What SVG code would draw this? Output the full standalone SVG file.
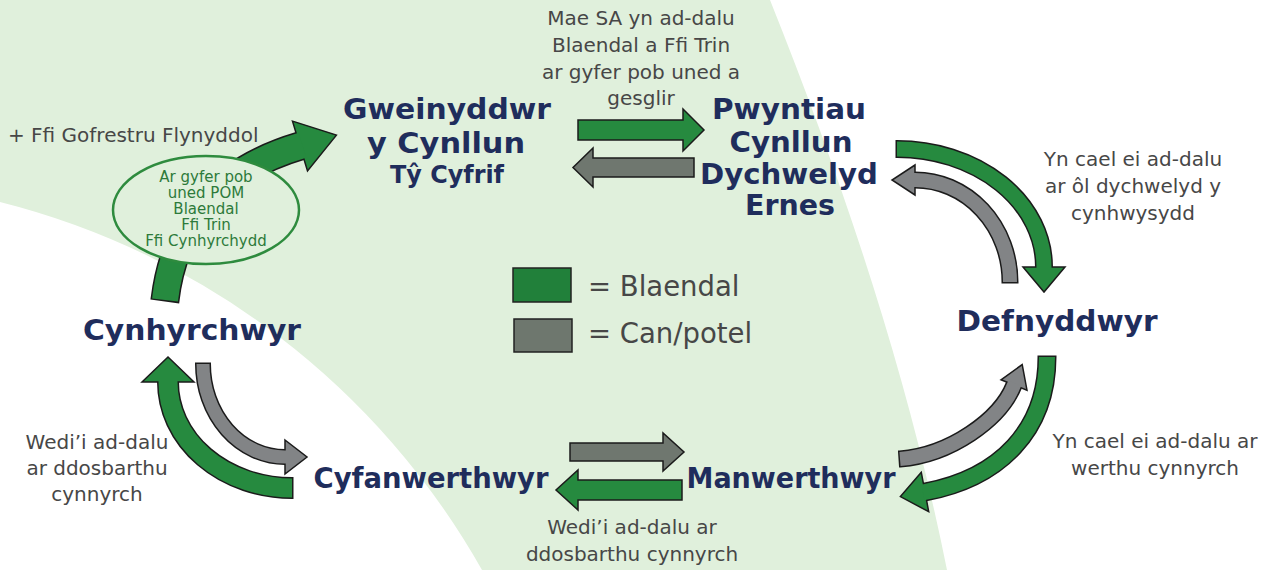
<svg xmlns="http://www.w3.org/2000/svg" width="1274" height="570" viewBox="0 0 1274 570">
<style>
.nd{font-family:"DejaVu Sans",Verdana,sans-serif;font-weight:bold;fill:#1f2d5c;text-anchor:middle;font-size:28px}
.lb{font-family:"DejaVu Sans",Verdana,sans-serif;fill:#474747;text-anchor:middle;font-size:20px}
.el{font-family:"DejaVu Sans",Verdana,sans-serif;fill:#2d7a3a;text-anchor:middle;font-size:15px}
.lg{font-family:"DejaVu Sans",Verdana,sans-serif;fill:#474747;font-size:27.5px}
.ol{fill:none;stroke:#1b1b1b;stroke-linecap:butt}
.gb{fill:none;stroke:#268a3f;stroke-linecap:butt}
.yb{fill:none;stroke:#828486;stroke-linecap:butt}
.gh{fill:#268a3f;stroke:#1b1b1b;stroke-width:1.5;stroke-linejoin:miter}
.yh{fill:#828486;stroke:#1b1b1b;stroke-width:1.5;stroke-linejoin:miter}
.ys{fill:#6f776f;stroke:#1b1b1b;stroke-width:1.5;stroke-linejoin:miter}
</style>
<defs>
<mask id="ellMask" maskUnits="userSpaceOnUse" x="0" y="0" width="1274" height="570">
<rect x="0" y="0" width="1274" height="570" fill="#fff"/>
<ellipse cx="206" cy="210" rx="93" ry="54" fill="#000"/>
</mask>
</defs>
<rect x="0" y="0" width="1274" height="570" fill="#ffffff"/>
<path id="bg" d="M0,0 H770 C846,190 909,380 947,570 H482 A769,769 0 0 0 0,202 Z" fill="#e0f0dc"/>

<g id="connectors">
<!-- Producers -> Scheme administrator (big green) -->
<g id="arrow-prod-admin" mask="url(#ellMask)">
<path class="ol" stroke-width="29" d="M164.8,301.5 L165,300 Q179,182 300,146"/>
<polygon class="gh" points="292.5,121.1 336.4,135.1 307.5,170.9"/>
<path class="gb" stroke-width="26" d="M165,300 Q179,182 300,146 l2.5,-0.75"/>
</g>
<!-- Admin <-> Return points straight -->
<polygon id="arrow-admin-rp" class="gh" points="578,120 683,120 683,109 704,130 683,151 683,140 578,140"/>
<polygon id="arrow-rp-admin" class="ys" points="694,158 593,158 593,148 573,167.5 593,187 593,177 694,177"/>
<!-- Return points -> Consumers green -->
<g id="arrow-rp-cons">
<path class="ol" stroke-width="18" d="M895.5,149 L897,149 A147,118 0 0 1 1044,267"/>
<polygon class="gh" points="1023,267 1065,267 1044,292"/>
<path class="gb" stroke-width="15" d="M897,149 A147,118 0 0 1 1044,267 l0,2"/>
</g>
<!-- Consumers -> Return points gray -->
<g id="arrow-cons-rp">
<path class="ol" stroke-width="17" d="M1010,283.5 L1010,282 A95,102 0 0 0 915,180"/>
<polygon class="yh" points="915,165 892,180 915,195"/>
<path class="yb" stroke-width="14" d="M1010,282 A95,102 0 0 0 915,180 l-2,0"/>
</g>
<!-- Consumers -> Retailers green -->
<g id="arrow-cons-ret">
<path class="ol" stroke-width="19" d="M1047,355.5 L1047,357 C1047,430 1000,478 925,492"/>
<polygon class="gh" points="921.3,472.3 900.4,496.6 928.7,511.7"/>
<path class="gb" stroke-width="16" d="M1047,357 C1047,430 1000,478 925,492 l-2,0.37"/>
</g>
<!-- Retailers -> Consumers gray -->
<g id="arrow-ret-cons">
<path class="ol" stroke-width="17" d="M898.5,459.1 L900,459 C950,455 1000,420 1014,385"/>
<polygon class="yh" points="1001,379.8 1022.2,364.6 1027,390.2"/>
<path class="yb" stroke-width="14" d="M900,459 C950,455 1000,420 1014,385 l0.74,-1.86"/>
</g>
<!-- Wholesalers <-> Retailers straight -->
<polygon id="arrow-whole-ret" class="ys" points="570,443 663,443 663,433 684,452 663,471 663,461 570,461"/>
<polygon id="arrow-ret-whole" class="gh" points="682,480 578,480 578,470 556,490 578,510 578,500 682,500"/>
<!-- Wholesalers -> Producers green -->
<g id="arrow-whole-prod">
<path class="ol" stroke-width="22" d="M293.5,488 L292,488 A124,106 0 0 1 168,382"/>
<polygon class="gh" points="142,382 168,357 194,382"/>
<path class="gb" stroke-width="19" d="M292,488 A124,106 0 0 1 168,382 l0,-2"/>
</g>
<!-- Producers -> Wholesalers gray -->
<g id="arrow-prod-whole">
<path class="ol" stroke-width="16" d="M203,362.5 L203,364 A82,93 0 0 0 285,457"/>
<polygon class="yh" points="285,440 307,457 285,474"/>
<path class="yb" stroke-width="13" d="M203,364 A82,93 0 0 0 285,457 l2,0"/>
</g>
</g>

<g id="fee-ellipse">
<ellipse cx="206" cy="210" rx="93" ry="54" fill="none" stroke="#2e8b3e" stroke-width="2.5"/>
<text class="el" x="206" y="182">Ar gyfer pob</text>
<text class="el" x="206" y="198">uned POM</text>
<text class="el" x="206" y="214">Blaendal</text>
<text class="el" x="206" y="230">Ffi Trin</text>
<text class="el" x="206" y="246">Ffi Cynhyrchydd</text>
</g>

<g id="node-admin">
<text class="nd" x="447" y="119" textLength="208" lengthAdjust="spacingAndGlyphs">Gweinyddwr</text>
<text class="nd" x="446" y="153" textLength="158" lengthAdjust="spacingAndGlyphs">y Cynllun</text>
<text class="nd" x="447" y="183" style="font-size:24px" textLength="114" lengthAdjust="spacingAndGlyphs">Tŷ Cyfrif</text>
</g>
<g id="node-returnpoints">
<text class="nd" x="789" y="119" textLength="154" lengthAdjust="spacingAndGlyphs">Pwyntiau</text>
<text class="nd" x="791" y="152" textLength="123" lengthAdjust="spacingAndGlyphs">Cynllun</text>
<text class="nd" x="789" y="184" textLength="178" lengthAdjust="spacingAndGlyphs">Dychwelyd</text>
<text class="nd" x="790" y="215" textLength="90" lengthAdjust="spacingAndGlyphs">Ernes</text>
</g>
<g id="node-consumers">
<text class="nd" x="1057" y="331" textLength="201" lengthAdjust="spacingAndGlyphs">Defnyddwyr</text>
</g>
<g id="node-producers">
<text class="nd" x="192" y="340" textLength="218" lengthAdjust="spacingAndGlyphs">Cynhyrchwyr</text>
</g>
<g id="node-wholesalers">
<text class="nd" x="431" y="488" textLength="235" lengthAdjust="spacingAndGlyphs">Cyfanwerthwyr</text>
</g>
<g id="node-retailers">
<text class="nd" x="791" y="488" textLength="209" lengthAdjust="spacingAndGlyphs">Manwerthwyr</text>
</g>

<g id="labels">
<text class="lb" x="641" y="25">Mae SA yn ad-dalu</text>
<text class="lb" x="641" y="52">Blaendal a Ffi Trin</text>
<text class="lb" x="641" y="79">ar gyfer pob uned a</text>
<text class="lb" x="641" y="105">gesglir</text>
<text class="lb" x="8" y="142" style="text-anchor:start">+ Ffi Gofrestru Flynyddol</text>
<text class="lb" x="1133" y="166">Yn cael ei ad-dalu</text>
<text class="lb" x="1133" y="193">ar ôl dychwelyd y</text>
<text class="lb" x="1133" y="220">cynhwysydd</text>
<text class="lb" x="1155" y="448">Yn cael ei ad-dalu ar</text>
<text class="lb" x="1155" y="475">werthu cynnyrch</text>
<text class="lb" x="97" y="449">Wedi’i ad-dalu</text>
<text class="lb" x="97" y="475">ar ddosbarthu</text>
<text class="lb" x="97" y="501">cynnyrch</text>
<text class="lb" x="632" y="534">Wedi’i ad-dalu ar</text>
<text class="lb" x="632" y="561">ddosbarthu cynnyrch</text>
</g>

<g id="legend">
<rect x="513" y="268" width="58" height="34" fill="#21803a" stroke="#222" stroke-width="1.5"/>
<rect x="514" y="319" width="58" height="33" fill="#6e776e" stroke="#222" stroke-width="1.5"/>
<text class="lg" x="588" y="296">= Blaendal</text>
<text class="lg" x="588" y="343">= Can/potel</text>
</g>
</svg>
